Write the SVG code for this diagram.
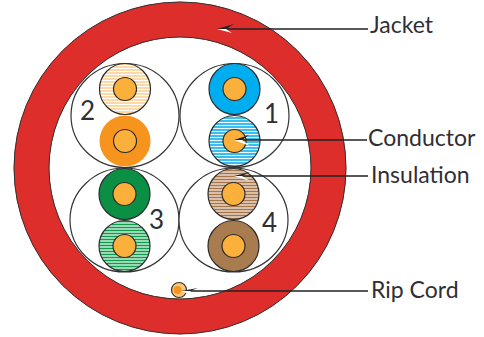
<svg xmlns="http://www.w3.org/2000/svg" width="484" height="337" viewBox="0 0 484 337">
<style>
.o{stroke:#2b2b2b;stroke-width:1.2}
.b{fill:#fff;stroke:#333;stroke-width:1.2}
.c{fill:#fbb03b;stroke:#2b2b2b;stroke-width:1.2}
.t{font-family:"Lato","Liberation Sans",sans-serif;font-size:23px;fill:#2f2f35}
.n{font-family:"Lato","Liberation Sans",sans-serif;font-size:26px;fill:#2f2f35}
.l{stroke:#222;stroke-width:1.4;fill:none}
.h{fill:#222}
.w{fill:#fff}
</style>
<defs>
<pattern id="po" width="3" height="3" patternUnits="userSpaceOnUse"><rect width="3" height="3" fill="#fff"/><rect width="3" height="2" fill="#fcd9a6"/></pattern>
<pattern id="pb" width="3" height="3" patternUnits="userSpaceOnUse"><rect width="3" height="3" fill="#e8f7fd"/><rect width="3" height="2" fill="#3cbdee"/></pattern>
<pattern id="pg" width="3" height="3" patternUnits="userSpaceOnUse"><rect width="3" height="3" fill="#0f9a4e"/><rect width="3" height="2" fill="#9ad9b4"/></pattern>
<pattern id="pr" width="3" height="3" patternUnits="userSpaceOnUse"><rect width="3" height="3" fill="#a8744a"/><rect width="3" height="2" fill="#d9c0ab"/></pattern>
</defs>
<g id="jacket"><circle cx="180" cy="168" r="148.5" fill="none" stroke="#dd2e2b" stroke-width="35.500"/><circle cx="180" cy="168" r="131" fill="none" stroke="#333" stroke-width="1"/><circle cx="180" cy="168" r="166" fill="none" stroke="#333" stroke-width="1"/><text class="t" x="370" y="33">Jacket</text></g>
<g id="pair-2">
<ellipse class="b" cx="125" cy="115.500" rx="54" ry="52"/>
<circle class="o" cx="125" cy="89" r="25.500" fill="url(#po)"/><circle class="c" cx="125" cy="89" r="11.500"/>
<circle cx="125" cy="141" r="25.500" fill="#f7941d"/><circle class="c" cx="125" cy="141" r="11.500"/>
<text class="n" x="80" y="120">2</text></g>
<g id="pair-1">
<ellipse class="b" cx="234.500" cy="115.500" rx="54.500" ry="52"/>
<circle class="o" cx="234.500" cy="89" r="25.500" fill="#00aeef"/><circle class="c" cx="234.500" cy="89" r="11.500"/>
<circle class="o" cx="234.500" cy="141" r="25.500" fill="url(#pb)"/><circle class="c" cx="234.500" cy="141" r="11.500"/>
<text class="n" x="264" y="123">1</text></g>
<g id="pair-3">
<ellipse class="b" cx="124.500" cy="220" rx="54.500" ry="52"/>
<circle class="o" cx="124.500" cy="194" r="25.500" fill="#0b8f45"/><circle class="c" cx="124.500" cy="194" r="11.500"/>
<circle class="o" cx="124.500" cy="246" r="25.500" fill="url(#pg)"/><circle class="c" cx="124.500" cy="246" r="11.500"/>
<text class="n" x="149" y="229">3</text></g>
<g id="pair-4">
<ellipse class="b" cx="233.500" cy="220" rx="54.500" ry="52"/>
<circle class="o" cx="233.500" cy="194" r="25.500" fill="url(#pr)"/><circle class="c" cx="233.500" cy="194" r="11.500"/>
<circle class="o" cx="233.500" cy="246" r="25.500" fill="#a97c50"/><circle class="c" cx="233.500" cy="246" r="11.500"/>
<text class="n" x="262" y="232">4</text></g>
<g id="rip-cord"><circle cx="179" cy="290" r="7.500" fill="#fbc77c" stroke="#333" stroke-width="1.200"/><circle cx="177.500" cy="290" r="4" fill="#f7941d"/><text class="t" x="371" y="298">Rip Cord</text></g>
<g id="labels"><text class="t" x="368" y="146">Conductor</text><text class="t" x="371" y="183">Insulation</text></g>
<g id="connectors">
<path class="l" d="M226 29H368M240 140H367M240 176H368M190 291H368"/>
<path class="w" d="M217 29L232 33L226 29Z"/><path class="h" d="M217 29L234 24L226 29Z"/>
<path class="w" d="M234 140L250 146L242 140Z"/><path class="h" d="M234 140L249 135L242 140Z"/>
<path class="w" d="M234 176L250 181L242 176Z"/><path class="h" d="M234 176L250 172L242 176Z"/>
<path class="w" d="M181 291L197 297L190 291Z"/><path class="h" d="M181 291L198 288L190 291Z"/>
</g>
</svg>
